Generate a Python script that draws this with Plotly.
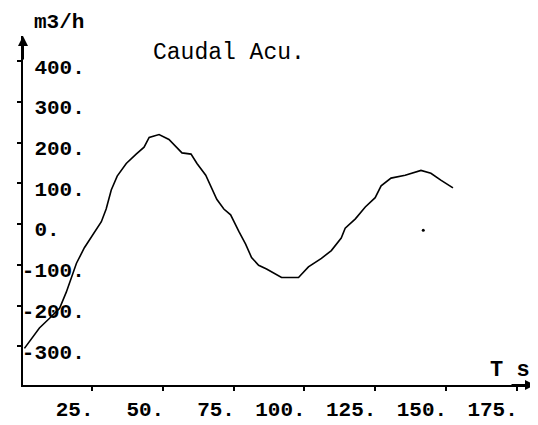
import plotly.graph_objects as go

# Caudal acumulado (m3/h) frente al tiempo (s)
t_s = [1.0, 6.3, 9.9, 13.4, 15.8, 17.6, 19.4, 22.2, 25.0, 28.2, 29.9, 31.7, 33.8,
       37.0, 40.5, 43.3, 45.1, 48.6, 52.1, 54.6, 56.7, 59.9, 62.0, 65.1, 66.9,
       69.0, 71.5, 73.9, 76.8, 79.2, 81.3, 83.8, 86.6, 88.4, 91.9, 97.9, 101.4,
       106.0, 109.5, 113.0, 114.4, 118.0, 121.5, 125.0, 127.1, 130.6, 135.6,
       141.2, 144.7, 148.2, 152.5]
caudal = [-305, -255, -231, -207, -167, -129, -96, -58, -29, 6, 37, 84, 118,
          149, 172, 189, 213, 220, 208, 191, 175, 172, 149, 120, 94,
          61, 37, 23, -18, -49, -82, -101, -110, -117, -131, -131, -105,
          -84, -65, -34, -10, 13, 42, 65, 94, 113, 120,
          132, 125, 108, 89]

# punto suelto del trazado original
punto_t = [142]
punto_q = [-15]

x_ticks = [25, 50, 75, 100, 125, 150, 175]
x_labels = ['\u00a025.', '\u00a050.', '\u00a075.', '100.', '125.', '150.', '175.']
y_ticks = [400, 300, 200, 100, 0, -100, -200, -300]
y_labels = ['\u00a0400.', '\u00a0300.', '\u00a0200.', '\u00a0100.', '\u00a00.',
            '-100.', '-200.', '-300.']

FONT = 'Liberation Mono'

fig = go.Figure()

fig.add_trace(go.Scatter(
    x=t_s, y=caudal,
    mode='lines',
    line=dict(color='black', width=1.6),
    showlegend=False
))

fig.add_trace(go.Scatter(
    x=punto_t, y=punto_q,
    mode='markers',
    marker=dict(color='black', size=3),
    showlegend=False
))

fig.update_layout(
    width=538, height=425,
    margin=dict(l=14, r=11, t=28, b=36),
    plot_bgcolor='white',
    paper_bgcolor='white',
    xaxis=dict(
        range=[0.5, 181.5],
        showgrid=False, zeroline=False,
        showline=True, linecolor='black', linewidth=2,
        ticks='outside', ticklen=4, tickwidth=2, tickcolor='black',
        tickvals=x_ticks, ticktext=x_labels,
        ticklabelshift=-24,
        tickfont=dict(family=FONT, size=21, color='black', weight='bold'),
    ),
    yaxis=dict(
        range=[-395, 462],
        showgrid=False, zeroline=False,
        showline=True, linecolor='black', linewidth=2,
        ticks='outside', ticklen=4, tickwidth=2, tickcolor='black',
        tickvals=y_ticks, ticktext=y_labels,
        ticklabelposition='inside',
        ticklabelshift=5,
        tickfont=dict(family=FONT, size=21, color='black', weight='bold'),
    ),
    annotations=[
        dict(text='Caudal Acu.', xref='paper', yref='paper', x=0.25, y=0.95,
             xanchor='left', yanchor='middle', showarrow=False,
             font=dict(family=FONT, size=23, color='black')),
        dict(text='m3/h', xref='paper', yref='paper', x=0.018, y=1.0,
             xanchor='left', yanchor='bottom', showarrow=False,
             font=dict(family=FONT, size=21, color='black', weight='bold')),
        dict(text='T\u00a0s', xref='paper', yref='paper', x=0.995, y=0.0,
             xanchor='right', yanchor='bottom', showarrow=False,
             font=dict(family=FONT, size=22, color='black', weight='bold')),
        # flechas de los ejes
        dict(text='', xref='paper', yref='paper', x=0, y=1, ax=0, ay=25,
             showarrow=True, arrowhead=2, arrowsize=1, arrowwidth=2, arrowcolor='black'),
        dict(text='', xref='paper', yref='paper', x=1, y=0, ax=-25, ay=0,
             showarrow=True, arrowhead=2, arrowsize=1, arrowwidth=2, arrowcolor='black'),
    ]
)

fig.write_html("out.html")
